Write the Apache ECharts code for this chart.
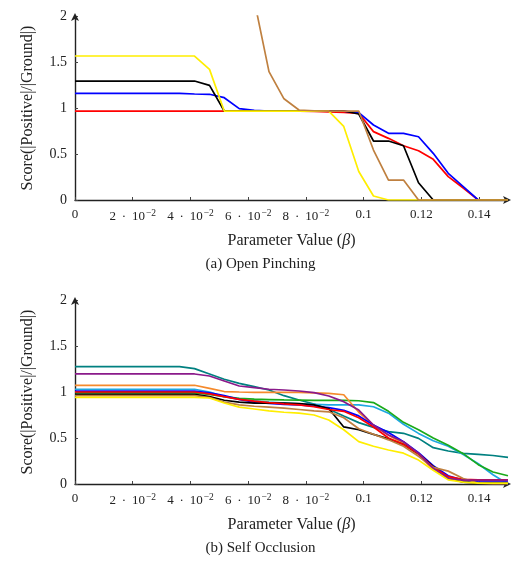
<!DOCTYPE html>
<html><head><meta charset="utf-8">
<script src="https://cdn.jsdelivr.net/npm/echarts@6/dist/echarts.min.js"></script>
<style>html,body{margin:0;padding:0;background:#fff}#c{width:521px;height:561px}</style>
</head><body><div id="c"></div>
<script>
// Parameter values (beta) sampled along the x axis
const betas = [0, 0.0052, 0.0103, 0.0155, 0.0207, 0.0259, 0.031, 0.0362, 0.0414, 0.0466,
  0.0517, 0.0569, 0.0621, 0.0672, 0.0724, 0.0776, 0.0828, 0.0879, 0.0931, 0.0983,
  0.1034, 0.1086, 0.1138, 0.119, 0.1241, 0.1293, 0.1345, 0.1397, 0.1448, 0.15];

// (a) Open Pinching
const pinchRed = [0.967,0.967,0.967,0.967,0.967,0.967,0.967,0.967,0.967,0.967,0.967,0.967,0.967,0.967,0.967,0.967,
  0.962,0.957,0.952,0.942,0.743,0.67,0.59,0.536,0.442,0.254,0.13,0,0,0];
const pinchBlue = [1.159,1.159,1.159,1.159,1.159,1.159,1.159,1.159,1.152,1.149,1.112,0.993,0.975,
  0.967,0.967,0.967,0.967,0.967,0.967,0.949,0.815,0.725,0.725,0.688,0.507,0.29,0.145,0,0,0];
const pinchBlack = [1.293,1.293,1.293,1.293,1.293,1.293,1.293,1.293,1.293,1.246,0.967,
  0.967,0.967,0.967,0.967,0.967,0.967,0.967,0.967,0.935,0.641,0.641,0.59,0.188,0,0,0,0,0,0];
const pinchYellow = [1.565,1.565,1.565,1.565,1.565,1.565,1.565,1.565,1.565,1.42,0.967,
  0.967,0.967,0.967,0.967,0.967,0.967,0.967,0.80,0.31,0.043,0,0,0,0,0,0,0,0,0];
const pinchBrown = [null,null,null,null,null,null,null,null,null,null,null,null,
  2.17,1.395,1.10,0.978,0.97,0.967,0.967,0.967,0.543,0.217,0.217,0,0,0,0,0,0,0];

// (b) Self Occlusion
const occTeal = [1.275,1.275,1.275,1.275,1.275,1.275,1.275,1.275,1.254,1.196,1.138,1.094,1.058,1.022,0.96,0.913,
  0.87,0.812,0.739,0.667,0.616,0.569,0.551,0.496,0.395,0.359,0.333,0.322,0.31,0.29];
const occCyan = [1.03,1.03,1.03,1.03,1.03,1.03,1.03,1.03,1.03,1.0,0.95,0.92,0.905,0.89,0.88,0.87,0.865,0.86,0.86,
  0.86,0.84,0.77,0.65,0.55,0.47,0.41,0.32,0.22,0.1,0.0];
const occGreen = [0.99,0.99,0.99,0.99,0.99,0.99,0.99,0.99,0.99,0.975,0.95,0.93,0.922,0.918,0.914,0.912,0.91,0.91,
  0.908,0.905,0.885,0.79,0.67,0.59,0.5,0.42,0.33,0.21,0.13,0.09];
const occOrange = [1.073,1.073,1.073,1.073,1.073,1.073,1.073,1.073,1.073,1.04,1.005,1.0,0.997,0.997,0.997,0.995,
  0.99,0.985,0.97,0.78,0.64,0.53,0.44,0.31,0.16,0.07,0.04,0.02,0.02,0.02];
const occBlue = [1.01,1.01,1.01,1.01,1.01,1.01,1.01,1.01,1.01,0.99,0.96,0.92,0.89,0.875,0.865,0.86,0.845,0.83,0.8,
  0.74,0.64,0.56,0.46,0.34,0.2,0.09,0.04,0.02,0.02,0.02];
const occBlack = [0.975,0.975,0.975,0.975,0.975,0.975,0.975,0.975,0.975,0.95,0.91,0.89,0.88,0.88,0.88,0.875,0.86,
  0.82,0.62,0.59,0.54,0.49,0.43,0.33,0.19,0.06,0.02,0.01,0.01,0.01];
const occRed = [1.0,1.0,1.0,1.0,1.0,1.0,1.0,1.0,1.0,0.98,0.95,0.92,0.9,0.885,0.87,0.86,0.84,0.81,0.79,0.72,
  0.62,0.5,0.43,0.33,0.18,0.08,0.05,0.045,0.045,0.045];
const occBrown = [0.96,0.96,0.96,0.96,0.96,0.96,0.96,0.96,0.96,0.94,0.89,0.86,0.845,0.835,0.825,0.81,0.795,0.785,
  0.72,0.6,0.54,0.48,0.41,0.3,0.18,0.14,0.06,0.01,0.0,0.0];
const occPurple = [1.196,1.196,1.196,1.196,1.196,1.196,1.196,1.196,1.196,1.174,1.12,1.065,1.047,1.03,1.022,1.011,
  0.993,0.957,0.895,0.804,0.641,0.533,0.46,0.333,0.17,0.062,0.043,0.043,0.043,0.043];
const occYellow = [0.942,0.942,0.942,0.942,0.942,0.942,0.942,0.942,0.942,0.935,0.88,0.835,0.815,0.795,0.78,0.77,
  0.75,0.695,0.59,0.46,0.41,0.37,0.335,0.26,0.15,0.045,0.02,0.01,0.01,0.01];

const xTickLabels = ['0', '2 \u2009·\u2009 10{s|−2}', '4 \u2009·\u2009 10{s|−2}', '6 \u2009·\u2009 10{s|−2}', '8 \u2009·\u2009 10{s|−2}', '0.1', '0.12', '0.14'];
const yTickValues = [0, 0.5, 1, 1.5, 2];
const captions = ['(a) Open Pinching', '(b) Self Occlusion'];

const FONT = "'Liberation Serif', 'Times New Roman', serif";
const TXT = '#222';

function pairs(vals) { return betas.map((b, i) => [b, vals[i]]); }

function xAxis(gi) {
  return {
    type: 'value', gridIndex: gi, min: 0, max: 0.15, interval: 0.02,
    axisLine: { show: true, lineStyle: { color: '#222', width: 1.4 }, symbol: ['none', 'arrow'], symbolSize: [6, 8], symbolOffset: [0, 3] },
    axisTick: { show: true, inside: true, length: 3, lineStyle: { color: '#444' } },
    splitLine: { show: false },
    axisLabel: {
      showMaxLabel: false, margin: 8, color: TXT, fontFamily: FONT, fontSize: 13,
      formatter: v => { const k = Math.round(v / 0.02); return (Math.abs(v - k * 0.02) < 1e-9 && xTickLabels[k] !== undefined) ? xTickLabels[k] : ''; },
      rich: { s: { fontSize: 9.5, fontFamily: FONT, color: TXT, verticalAlign: 'top', padding: [0, 0, 7, 1] } }
    },
    name: 'Parameter Value ({i|β})', nameLocation: 'middle', nameGap: 33,
    nameTextStyle: { color: TXT, fontFamily: FONT, fontSize: 16, rich: { i: { fontStyle: 'italic', fontFamily: FONT, fontSize: 16, color: TXT } } }
  };
}
function yAxis(gi) {
  return {
    type: 'value', gridIndex: gi, min: 0, max: 2, interval: 0.5,
    axisLine: { show: true, lineStyle: { color: '#222', width: 1.4 }, symbol: ['none', 'arrow'], symbolSize: [6, 8], symbolOffset: [0, 3] },
    axisTick: { show: true, inside: true, length: 3, lineStyle: { color: '#444' } },
    splitLine: { show: false },
    axisLabel: { color: TXT, fontFamily: FONT, fontSize: 14, margin: 8,
      formatter: v => yTickValues.indexOf(v) >= 0 ? String(v) : '' },
    name: 'Score(|Positive|/|Ground|)', nameLocation: 'middle', nameGap: 39, nameRotate: 90,
    nameTextStyle: { color: TXT, fontFamily: FONT, fontSize: 16 }
  };
}
function line(gi, vals, color) {
  return { type: 'line', xAxisIndex: gi, yAxisIndex: gi, data: pairs(vals), showSymbol: false, symbol: 'none',
    clip: true, connectNulls: false, lineStyle: { color: color, width: 1.7 }, itemStyle: { color: color }, animation: false };
}

const chart = echarts.init(document.getElementById('c'), null, { renderer: 'canvas' });
chart.setOption({
  animation: false,
  backgroundColor: '#fff',
  grid: [
    { left: 75, top: 16, width: 433, height: 184, containLabel: false },
    { left: 75, top: 300, width: 433, height: 184, containLabel: false }
  ],
  xAxis: [xAxis(0), xAxis(1)],
  yAxis: [yAxis(0), yAxis(1)],
  series: [
    line(0, pinchRed, '#ff0000'),
    line(0, pinchBlue, '#0000ff'),
    line(0, pinchBlack, '#000000'),
    line(0, pinchYellow, '#ffee00'),
    line(0, pinchBrown, '#bf8040'),
    line(1, occTeal, '#008080'),
    line(1, occCyan, '#1ea7e1'),
    line(1, occGreen, '#1aaa1a'),
    line(1, occOrange, '#f58a2c'),
    line(1, occBlue, '#0000ff'),
    line(1, occBlack, '#000000'),
    line(1, occRed, '#ff0000'),
    line(1, occBrown, '#bf8040'),
    line(1, occPurple, '#8a1a8a'),
    line(1, occYellow, '#ffee00')
  ],
  graphic: [
    { type: 'text', left: 'center', top: 257, style: { text: captions[0], font: '15px ' + FONT, fill: TXT } },
    { type: 'text', left: 'center', top: 541, style: { text: captions[1], font: '15px ' + FONT, fill: TXT } }
  ]
});
</script></body></html>
